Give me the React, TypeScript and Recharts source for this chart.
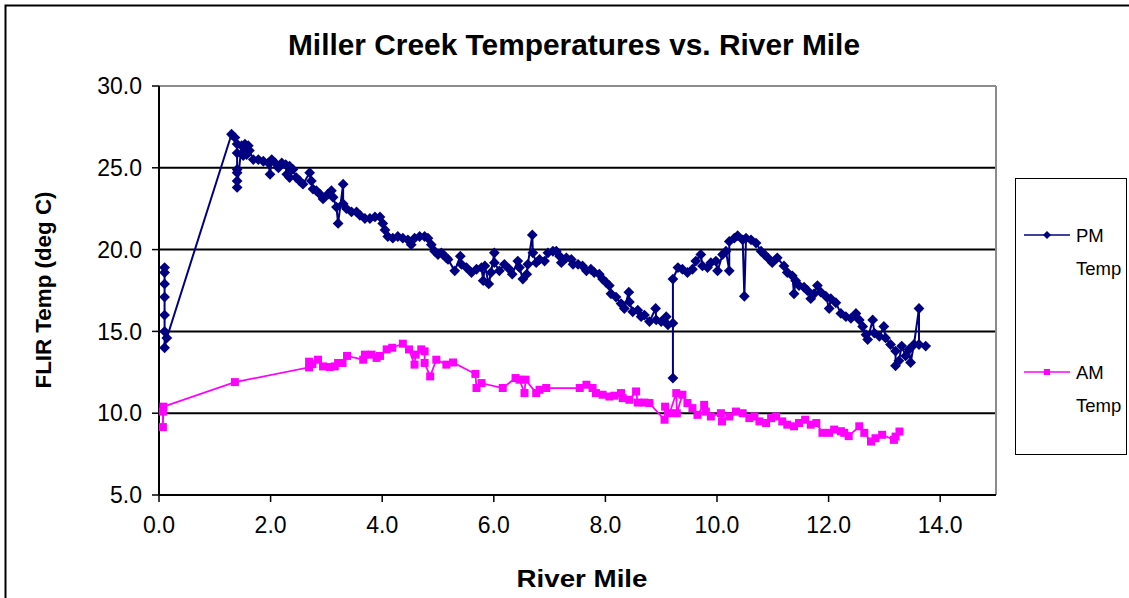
import { CartesianGrid, Legend, ReferenceLine, Scatter, ScatterChart, XAxis, YAxis } from 'recharts';

// river mile / FLIR temperature
const pmMile: number[] = [
  0.1, 0.1, 0.1, 0.1, 0.1, 0.1, 0.1, 0.14, 1.3, 1.36, 1.4, 1.4, 1.4, 1.4, 1.4, 1.4,
  1.48, 1.51, 1.54, 1.57, 1.6, 1.62, 1.69, 1.78, 1.87, 1.96, 1.99, 2.02, 2.08, 2.14,
  2.2, 2.27, 2.29, 2.34, 2.34, 2.4, 2.46, 2.52, 2.58, 2.7, 2.73, 2.76, 2.82, 2.88,
  2.94, 3.03, 3.09, 3.12, 3.18, 3.21, 3.3, 3.3, 3.36, 3.45, 3.54, 3.6, 3.69, 3.78,
  3.87, 3.96, 4.01, 4.05, 4.1, 4.19, 4.28, 4.37, 4.46, 4.52, 4.58, 4.67, 4.76, 4.82,
  4.88, 4.94, 5.0, 5.06, 5.09, 5.15, 5.18, 5.3, 5.4, 5.42, 5.51, 5.6, 5.69, 5.78,
  5.81, 5.84, 5.91, 5.95, 6.01, 6.01, 6.1, 6.19, 6.28, 6.33, 6.43, 6.46, 6.52, 6.59,
  6.61, 6.69, 6.7, 6.76, 6.82, 6.91, 6.97, 7.06, 7.12, 7.18, 7.21, 7.3, 7.39, 7.42,
  7.51, 7.59, 7.66, 7.74, 7.8, 7.89, 7.95, 8.01, 8.07, 8.1, 8.19, 8.28, 8.34, 8.42,
  8.43, 8.49, 8.58, 8.64, 8.7, 8.79, 8.9, 8.91, 9.0, 9.09, 9.12, 9.21, 9.21, 9.21,
  9.3, 9.38, 9.47, 9.56, 9.62, 9.71, 9.74, 9.83, 9.89, 9.98, 10.01, 10.1, 10.16,
  10.22, 10.22, 10.31, 10.37, 10.46, 10.49, 10.52, 10.61, 10.7, 10.79, 10.85, 10.91,
  10.99, 11.08, 11.2, 11.26, 11.35, 11.38, 11.41, 11.47, 11.56, 11.62, 11.68, 11.74,
  11.8, 11.86, 11.95, 12.01, 12.04, 12.13, 12.22, 12.31, 12.4, 12.49, 12.55, 12.61,
  12.67, 12.7, 12.79, 12.82, 12.91, 12.99, 13.02, 13.11, 13.2, 13.2, 13.26, 13.31,
  13.38, 13.44, 13.47, 13.53, 13.62, 13.62, 13.74,
];
const pmTemp: number[] = [
  18.9, 18.6, 17.9, 17.1, 16.0, 15.0, 14.0, 14.6, 27.05, 26.85, 26.45, 25.9, 24.9, 24.7, 24.2, 23.8,
  26.35, 25.75, 26.45, 25.8, 26.35, 26.05, 25.5, 25.5, 25.4, 25.3, 24.6, 25.5, 25.3, 25.0,
  25.3, 25.2, 24.6, 25.1, 24.4, 24.9, 24.4, 24.2, 24.0, 24.7, 24.2, 23.7, 23.6, 23.4,
  23.1, 23.4, 23.6, 23.2, 22.6, 21.6, 24.0, 22.8, 22.5, 22.3, 22.3, 22.1, 21.9, 21.9,
  22.0, 22.0, 21.6, 21.2, 20.8, 20.7, 20.8, 20.7, 20.6, 20.3, 20.7, 20.8, 20.8, 20.7,
  20.3, 19.9, 19.7, 19.8, 19.7, 19.5, 19.4, 18.7, 19.6, 19.1, 18.9, 18.6, 18.8, 18.9,
  18.1, 19.0, 17.9, 18.6, 19.8, 19.2, 18.7, 19.1, 18.8, 18.5, 19.3, 18.9, 18.2, 18.5,
  19.1, 20.9, 19.8, 19.2, 19.4, 19.3, 19.8, 19.9, 19.9, 19.6, 19.2, 19.5, 19.4, 19.1,
  19.1, 19.0, 18.7, 18.8, 18.6, 18.5, 18.2, 18.0, 17.8, 17.3, 17.1, 16.7, 16.4, 17.4,
  16.8, 16.2, 16.3, 15.9, 16.0, 15.6, 16.4, 15.7, 15.6, 15.9, 15.4, 15.5, 12.15, 18.2,
  18.9, 18.8, 18.6, 18.8, 19.3, 19.7, 19.0, 18.9, 19.2, 19.3, 18.7, 19.7, 19.9,
  18.7, 20.5, 20.7, 20.85, 20.6, 17.15, 20.7, 20.6, 20.4, 19.9, 19.7, 19.5,
  19.2, 19.5, 19.0, 18.6, 18.4, 17.3, 18.1, 17.8, 17.7, 17.5, 17.0, 17.3,
  17.8, 17.4, 17.15, 16.4, 17.0, 16.75, 16.1, 15.9, 15.8, 16.1, 15.7, 15.3,
  14.8, 14.5, 15.7, 14.9, 14.7, 15.3, 14.6, 14.2, 13.8, 12.9, 13.2, 14.1,
  13.5, 13.9, 13.1, 14.2, 16.4, 14.2, 14.1,
];

const amMile: number[] = [
  0.07, 0.07, 0.08, 1.36, 2.69, 2.69, 2.75, 2.85, 2.94, 3.06, 3.15, 3.21, 3.29, 3.37,
  3.66, 3.69, 3.81, 3.9, 3.96, 4.08, 4.18, 4.37, 4.48, 4.58, 4.6, 4.7, 4.76, 4.76,
  4.86, 4.97, 5.15, 5.27, 5.67, 5.69, 5.78, 6.16, 6.39, 6.46, 6.55, 6.57, 6.76, 6.82,
  6.94, 7.54, 7.66, 7.77, 7.83, 7.95, 8.07, 8.16, 8.28, 8.31, 8.43, 8.55, 8.58, 8.7,
  8.79, 9.06, 9.07, 9.15, 9.27, 9.28, 9.38, 9.47, 9.56, 9.65, 9.77, 9.8, 9.89, 10.07,
  10.09, 10.22, 10.34, 10.46, 10.58, 10.67, 10.76, 10.88, 10.97, 11.06, 11.17, 11.26,
  11.38, 11.47, 11.58, 11.68, 11.78, 11.89, 12.01, 12.1, 12.22, 12.28, 12.36, 12.55,
  12.64, 12.76, 12.84, 12.96, 13.17, 13.2, 13.27,
];
const amTemp: number[] = [
  10.1, 9.15, 10.4, 11.9, 12.8, 13.15, 13.0, 13.27, 12.86, 12.82, 12.86, 13.07, 13.07, 13.5,
  13.27, 13.58, 13.58, 13.38, 13.5, 13.9, 14.0, 14.25, 13.9, 12.97, 13.58, 13.9, 13.78, 13.07,
  12.25, 13.27, 12.97, 13.1, 12.4, 11.54, 11.84, 11.54, 12.15, 12.05, 11.23, 12.05, 11.23, 11.43,
  11.54, 11.54, 11.74, 11.54, 11.23, 11.13, 11.02, 11.07, 11.23, 10.92, 10.82, 11.33, 10.65, 10.65,
  10.62, 9.6, 10.4, 10.0, 11.23, 10.0, 11.13, 10.62, 10.31, 9.9, 10.51, 10.1, 9.8, 10.0,
  9.5, 9.8, 10.1, 10.0, 9.7, 9.8, 9.5, 9.4, 9.7, 9.8, 9.5, 9.3,
  9.2, 9.4, 9.6, 9.3, 9.4, 8.8, 8.8, 9.0, 8.9, 8.8, 8.6, 9.2,
  8.8, 8.27, 8.47, 8.68, 8.37, 8.57, 8.88,
];

const xTicks: number[] = [0, 2, 4, 6, 8, 10, 12, 14];
const yTicks: number[] = [5, 10, 15, 20, 25, 30];

const PM_COLOR = '#000080';
const AM_COLOR = '#FF00FF';
const FONT = '"Liberation Sans", Arial, sans-serif';

const pmData = pmMile.map((mile, i) => ({ mile, temp: pmTemp[i] }));
const amData = amMile.map((mile, i) => ({ mile, temp: amTemp[i] }));

function Diamond(props: any) {
  const { cx, cy } = props;
  if (cx == null || cy == null) return null;
  const r = 5.4;
  return (
    <polygon
      points={`${cx},${cy - r} ${cx + r},${cy} ${cx},${cy + r} ${cx - r},${cy}`}
      fill={PM_COLOR}
    />
  );
}

function Square(props: any) {
  const { cx, cy } = props;
  if (cx == null || cy == null) return null;
  return <rect x={cx - 4} y={cy - 4} width={8} height={8} fill={AM_COLOR} />;
}

function LegendBox() {
  return (
    <div
      style={{
        width: 112,
        height: 277,
        border: '1.5px solid #000',
        boxSizing: 'border-box',
        background: '#fff',
      }}
    >
      <svg width={109} height={274} style={{ display: 'block' }}>
        <line x1={8} y1={56} x2={54} y2={56} stroke={PM_COLOR} strokeWidth={1.5} />
        <polygon points="31,52 35,56 31,60 27,56" fill={PM_COLOR} />
        <text x={60} y={63} fontFamily={FONT} fontSize={18.5} fill="#000">PM</text>
        <text x={60} y={96} fontFamily={FONT} fontSize={18.5} fill="#000">Temp</text>
        <line x1={8} y1={193} x2={54} y2={193} stroke={AM_COLOR} strokeWidth={1.5} />
        <rect x={28} y={190} width={6} height={6} fill={AM_COLOR} />
        <text x={60} y={200} fontFamily={FONT} fontSize={18.5} fill="#000">AM</text>
        <text x={60} y={233} fontFamily={FONT} fontSize={18.5} fill="#000">Temp</text>
      </svg>
    </div>
  );
}

export default function App() {
  return (
    <div
      style={{
        position: 'absolute',
        left: 0,
        top: 0,
        width: 1129,
        height: 598,
        background: '#fff',
        fontFamily: FONT,
      }}
    >
      <ScatterChart width={1129} height={598} margin={{ top: 86, right: 133, bottom: 0, left: 0 }}>
        <CartesianGrid vertical={false} stroke="#000" strokeWidth={2} />
        <XAxis
          type="number"
          dataKey="mile"
          domain={[0, 15]}
          ticks={xTicks}
          tickFormatter={(v: number) => v.toFixed(1)}
          height={103}
          tickSize={7}
          tickMargin={15}
          axisLine={{ stroke: '#000', strokeWidth: 2 }}
          tickLine={{ stroke: '#000', strokeWidth: 1.5 }}
          tick={{ fill: '#000', fontSize: 23, fontFamily: FONT }}
        />
        <YAxis
          type="number"
          dataKey="temp"
          domain={[5, 30]}
          ticks={yTicks}
          tickFormatter={(v: number) => v.toFixed(1)}
          width={159}
          tickSize={7}
          tickMargin={10}
          axisLine={{ stroke: '#000', strokeWidth: 2 }}
          tickLine={{ stroke: '#000', strokeWidth: 1.5 }}
          tick={{ fill: '#000', fontSize: 23, fontFamily: FONT }}
        />
        <ReferenceLine y={30} stroke="#8c8c8c" strokeWidth={2} />
        <ReferenceLine x={15} stroke="#8c8c8c" strokeWidth={2} />
        <Legend
          layout="horizontal"
          verticalAlign="middle"
          align="center"
          wrapperStyle={{ left: 1015, top: 178, width: 112, height: 277 }}
          content={() => <LegendBox />}
        />
        <Scatter
          name="AM Temp"
          data={amData}
          line={{ stroke: AM_COLOR, strokeWidth: 1.75 }}
          lineType="joint"
          shape={Square}
          fill={AM_COLOR}
          isAnimationActive={false}
        />
        <Scatter
          name="PM Temp"
          data={pmData}
          line={{ stroke: PM_COLOR, strokeWidth: 2 }}
          lineType="joint"
          shape={Diamond}
          fill={PM_COLOR}
          isAnimationActive={false}
        />
      </ScatterChart>
      <svg
        width={1129}
        height={598}
        style={{ position: 'absolute', left: 0, top: 0, pointerEvents: 'none' }}
      >
        <path d="M5.5,598 L5.5,5.5 L1129,5.5" fill="none" stroke="#000" strokeWidth={2} />
        <text
          x={574}
          y={55}
          textAnchor="middle"
          fontFamily={FONT}
          fontWeight="bold"
          fontSize={29}
          textLength={572}
          lengthAdjust="spacingAndGlyphs"
        >
          Miller Creek Temperatures vs. River Mile
        </text>
        <text
          x={582}
          y={587}
          textAnchor="middle"
          fontFamily={FONT}
          fontWeight="bold"
          fontSize={24}
          textLength={131}
          lengthAdjust="spacingAndGlyphs"
        >
          River Mile
        </text>
        <text
          transform="translate(51,290) rotate(-90)"
          textAnchor="middle"
          fontFamily={FONT}
          fontWeight="bold"
          fontSize={22}
          textLength={197}
          lengthAdjust="spacingAndGlyphs"
        >
          FLIR Temp (deg C)
        </text>
      </svg>
    </div>
  );
}
